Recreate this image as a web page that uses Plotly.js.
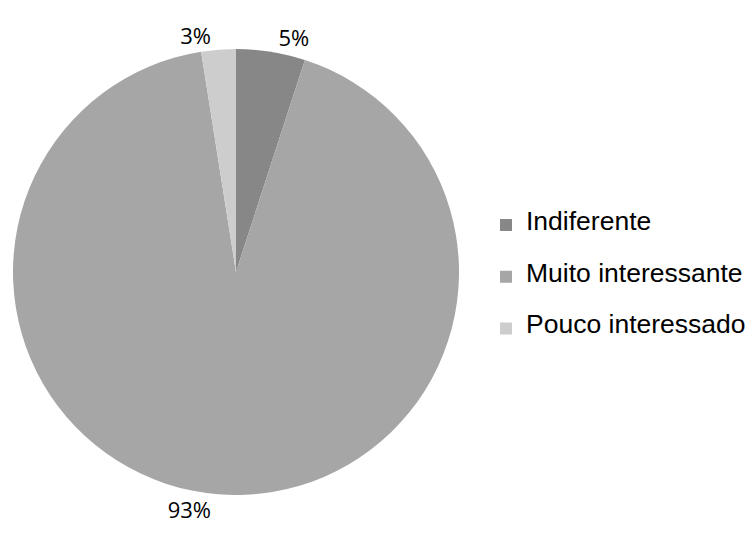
<!DOCTYPE html>
<html>
<head>
<meta charset="utf-8">
<script src="https://cdn.plot.ly/plotly-3.0.1.min.js"></script>
<style>html,body{margin:0;padding:0;background:#fff;}#chart{width:750px;height:534px;}</style>
</head>
<body>
<div id="chart"></div>
<script>
var categories = ["Indiferente", "Muito interessante", "Pouco interessado"];
var counts = [2, 37, 1];
var sliceColors = ["#878787", "#a6a6a6", "#cdcdcd"];

// legend entries: taller rows via blank lines around the visible label
var legendLabels = categories.map(function (c) {
  return "&nbsp;<br><span style=\"font-size:26.5px\">" + c + "</span><br>&nbsp;";
});

var trace = {
  type: "pie",
  labels: legendLabels,
  values: counts,
  sort: false,
  direction: "clockwise",
  rotation: 0,
  marker: { colors: sliceColors, line: { width: 0 } },
  textposition: "outside",
  texttemplate: "%{percent:.0%}",
  textfont: { family: "Open Sans, Noto Sans, sans-serif", size: 22, color: "#000" },
  outsidetextfont: { family: "Open Sans, Noto Sans, sans-serif", size: 22, color: "#000" },
  hoverinfo: "none",
  domain: { x: [13 / 750, 459 / 750], y: [38 / 534, 486 / 534] }
};

var layout = {
  width: 750,
  height: 534,
  margin: { l: 0, r: 0, t: 0, b: 0, autoexpand: false },
  paper_bgcolor: "#fff",
  showlegend: true,
  legend: {
    x: 486 / 750,
    xanchor: "left",
    y: 0.481,
    yanchor: "middle",
    font: { family: "Liberation Sans, Arial, sans-serif", size: 12.5, color: "#000" },
    valign: "middle",
    bgcolor: "rgba(0,0,0,0)"
  }
};

Plotly.newPlot("chart", [trace], layout, { displayModeBar: false, staticPlot: true });
</script>
</body>
</html>
